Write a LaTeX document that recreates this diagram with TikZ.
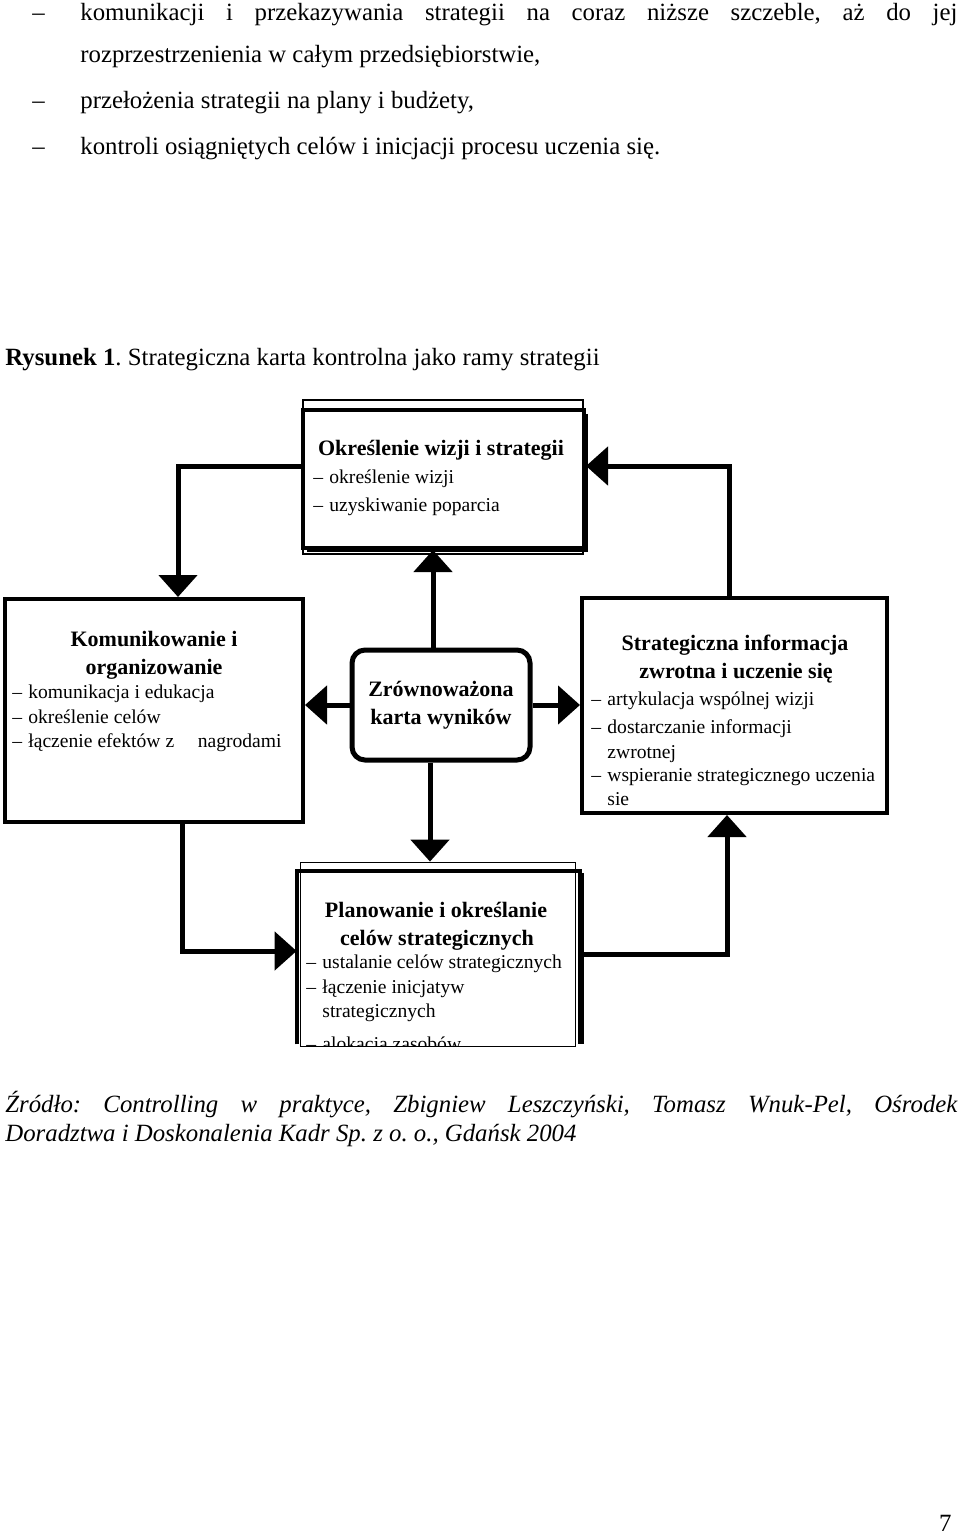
\documentclass[tikz,border=0pt]{standalone}
\usepackage{fontspec}
\setmainfont{Liberation Serif}
\usetikzlibrary{arrows.meta,shadows}
\frenchspacing

\newcommand{\kreska}{\makebox[8pt][l]{–}}

\begin{document}
\begin{tikzpicture}[x=0.5pt,y=-0.5pt,
	>={Triangle[length=11pt,width=19pt]},
	tekst/.style={inner sep=0pt,anchor=base west,font=\fontsize{12.4}{14}\selectfont},
	ramka/.style={rectangle,draw,line width=2pt,inner sep=0pt,fill=white},
	cienka/.style={draw,line width=0.6pt},
	tytul/.style={inner sep=0pt,anchor=mid,font=\bfseries\fontsize{11}{14}\selectfont},
	punkt/.style={inner sep=0pt,anchor=mid west,font=\fontsize{9.8}{12}\selectfont},
	polacz/.style={->,line width=2.5pt}]

\useasboundingbox (0,0) rectangle (960,1537);

% tekst nad rysunkiem
	\node 	(d1)	at	(32,20) 	[tekst]{–};
	\node 	(w1)	at	(80,20) 	[tekst]{\makebox[438.5pt][s]{komunikacji i przekazywania strategii na coraz niższe szczeble, aż do jej}};
	\node 	(w2)	at	(80,62) 	[tekst]{rozprzestrzenienia w całym przedsiębiorstwie,};
	\node 	(d3)	at	(32,108) 	[tekst]{–};
	\node 	(w3)	at	(80,108) 	[tekst]{przełożenia strategii na plany i budżety,};
	\node 	(d4)	at	(32,154) 	[tekst]{–};
	\node 	(w4)	at	(80,154) 	[tekst]{kontroli osiągniętych celów i inicjacji procesu uczenia się.};

	\node 	(rys)	at	(5,365) 	[tekst]{\textbf{Rysunek 1}. Strategiczna karta kontrolna jako ramy strategii};

% ramki
	\node 	(vis)	at	(443.5,479) 	[ramka, minimum width=140.5pt, minimum height=69pt,
			drop shadow={shadow xshift=2pt, shadow yshift=-2pt, fill=black, opacity=1}]{};
	\draw[cienka]	([shift={(1pt,4pt)}]vis.north west)	rectangle	([shift={(-1.5pt,-2pt)}]vis.south east);

	\node 	(kom)	at	(154,710.5) 	[ramka, minimum width=149pt, minimum height=111.5pt]{};

	\node 	(kar)	at	(441,705) 	[ramka, line width=2.5pt, rounded corners=6.5pt, minimum width=89pt, minimum height=55pt,
			align=center, font=\bfseries\fontsize{11}{14}\selectfont]{Zrównoważona\\karta wyników};

	\node 	(inf)	at	(734.5,705.5) 	[ramka, minimum width=152.5pt, minimum height=107.5pt]{};

	\node 	(plan)	at	(438.5,957.5) 	[rectangle, minimum width=141.5pt, minimum height=86.5pt]{};
	\draw[line width=2pt]	(plan.south west)	--	(plan.north west)	--	(plan.north east)	--	(plan.south east);
	\fill	([yshift=-1pt]plan.north east)	rectangle	([xshift=2pt]plan.south east);
	\draw[cienka]	([shift={(2pt,4pt)}]plan.north west)	rectangle	([shift={(-2.5pt,-1pt)}]plan.south east);

% teksty w ramkach
	\node 	(vis1)	at	(441,451) 	[tytul]{Określenie wizji i strategii};
	\node 	(vis2)	at	(313,479) 	[punkt]{\kreska określenie wizji};
	\node 	(vis3)	at	(313,507) 	[punkt]{\kreska uzyskiwanie poparcia};

	\node 	(kom1)	at	(154,642) 	[tytul]{Komunikowanie i};
	\node 	(kom2)	at	(154,670) 	[tytul]{organizowanie};
	\node 	(kom3)	at	(12,694) 	[punkt]{\kreska komunikacja i edukacja};
	\node 	(kom4)	at	(12,719) 	[punkt]{\kreska określenie celów};
	\node 	(kom5)	at	(12,743) 	[punkt]{\kreska łączenie efektów z\hspace{1.2em}nagrodami};

	\node 	(inf1)	at	(735,646) 	[tytul]{Strategiczna informacja};
	\node 	(inf2)	at	(736,674) 	[tytul]{zwrotna i uczenie się};
	\node 	(inf3)	at	(591,701) 	[punkt]{\kreska artykulacja wspólnej wizji};
	\node 	(inf4)	at	(591,729) 	[punkt]{\kreska dostarczanie informacji};
	\node 	(inf5)	at	(607,754) 	[punkt]{zwrotnej};
	\node 	(inf6)	at	(591,777) 	[punkt]{\kreska wspieranie strategicznego uczenia};
	\node 	(inf7)	at	(607,801) 	[punkt]{sie};

	\node 	(plan1)	at	(436,913) 	[tytul]{Planowanie i określanie};
	\node 	(plan2)	at	(437,941) 	[tytul]{celów strategicznych};
	\node 	(plan3)	at	(306,964) 	[punkt]{\kreska ustalanie celów strategicznych};
	\node 	(plan4)	at	(306,989) 	[punkt]{\kreska łączenie inicjatyw};
	\node 	(plan5)	at	(322,1013) 	[punkt]{strategicznych};
\begin{scope}
	\clip	(plan.north west)	rectangle	([yshift=-1pt]plan.south east);
	\node 	(plan6)	at	(306,1046) 	[punkt]{\kreska alokacja zasobów};
\end{scope}

% strzalki
	\coordinate	(z1)	at	(178,466);
	\coordinate	(z2)	at	(729,466);
	\coordinate	(z4)	at	(182,951);
	\coordinate	(z5)	at	(727,954);

	\draw[polacz]	(vis.west |- z1)	--	(z1)	--	(kom.north -| z1);
	\draw[polacz]	(inf.north -| z2)	--	(z2)	--	(vis.east |- z2);
	\draw[polacz]	([xshift=-4pt]kar.north)	to	([xshift=-4pt]kar.north |- vis.south);
	\draw[polacz]	([xshift=-5.5pt]kar.south)	to	([xshift=-5.5pt,yshift=4.5pt]kar.south |- plan.north);
	\draw[polacz]	(kar.west)	to	(kom.east |- kar.west);
	\draw[polacz]	(kar.east)	to	(inf.west |- kar.east);
	\draw[polacz]	(kom.south -| z4)	--	(z4)	--	(plan.west |- z4);
	\draw[polacz]	(plan.east |- z5)	--	(z5)	--	(inf.south -| z5);

% zrodlo
	\node 	(zr1)	at	(5,1112) 	[tekst]{\itshape\makebox[476pt][s]{Źródło: Controlling w praktyce, Zbigniew Leszczyński, Tomasz Wnuk-Pel, Ośrodek}};
	\node 	(zr2)	at	(5,1141) 	[tekst]{\itshape Doradztwa i Doskonalenia Kadr Sp. z o. o., Gdańsk 2004};

	\node 	(str)	at	(952,1531) 	[tekst, anchor=base east]{7};

\end{tikzpicture}
\end{document}
